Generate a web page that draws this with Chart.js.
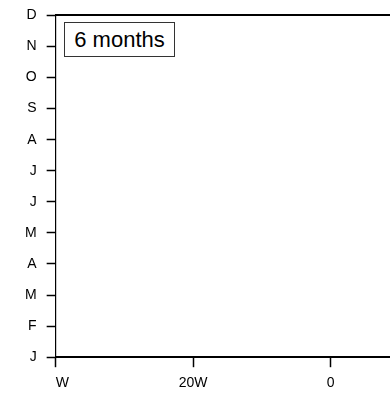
<!DOCTYPE html>
<html>
<head>
<meta charset="utf-8">
<script src="https://cdn.jsdelivr.net/npm/chart.js@4/dist/chart.umd.min.js"></script>
<style>
  html, body { margin: 0; padding: 0; background: #fff; }
  #wrap { position: relative; width: 390px; height: 393px; overflow: hidden; }
  #chart { display: block; margin-top: -3px; }
  #label {
    position: absolute; left: 64px; top: 22px; width: 111px; height: 35px;
    box-sizing: border-box; border: 1px solid #333; background: #fff;
    font: 22px "Liberation Sans", Arial, sans-serif; line-height: 33px;
    text-align: center; color: #000;
  }
</style>
</head>
<body>
<div id="wrap">
  <canvas id="chart" width="430" height="403"></canvas>
  <div id="label">6 months</div>
</div>
<script>
// month axis, bottom to top
const months = ["J", "F", "M", "A", "M", "J", "J", "A", "S", "O", "N", "D"];
// longitude axis (the plot runs on past the right edge of the picture)
const lonTicks = [-40, -20, 0, 13.3];
const lonLabels = ["W", "20W", "0", ""];
const lonMin = -40;
const lonMax = 13.3;

// no data plotted in the reference
const seriesPoints = [];

const tickFont = { family: "'Liberation Sans', Arial, sans-serif", size: 14 };

new Chart(document.getElementById("chart"), {
  type: 'line',
  data: {
    labels: months,
    datasets: [{
      data: seriesPoints,
      borderColor: '#000',
      pointRadius: 0
    }]
  },
  options: {
    responsive: false,
    animation: false,
    layout: { padding: { top: 4, right: 0, bottom: 0, left: 15 } },
    plugins: { legend: { display: false }, tooltip: { enabled: false } },
    scales: {
      x: {
        type: 'linear',
        min: lonMin,
        max: lonMax,
        afterBuildTicks: axis => {
          axis.ticks = lonTicks.map(v => ({ value: v }));
        },
        ticks: {
          color: '#000',
          font: tickFont,
          padding: 8,
          maxRotation: 0,
          align: 'inner',
          callback: (v) => lonLabels[lonTicks.indexOf(v)]
        },
        grid: { drawOnChartArea: false, tickLength: 10, color: '#000', tickWidth: 1.5 },
        border: { color: '#000', width: 2 }
      },
      xTop: {
        type: 'linear',
        position: 'top',
        min: lonMin,
        max: lonMax,
        ticks: { display: false },
        grid: { display: false },
        border: { color: '#000', width: 2 }
      },
      y: {
        type: 'category',
        labels: months,
        reverse: true,
        offset: false,
        ticks: { color: '#000', font: tickFont, padding: 10, autoSkip: false },
        grid: { drawOnChartArea: false, tickLength: 9, color: '#000', tickWidth: 1.5 },
        border: { color: '#000', width: 1.2 }
      }
    }
  }
});
</script>
</body>
</html>
